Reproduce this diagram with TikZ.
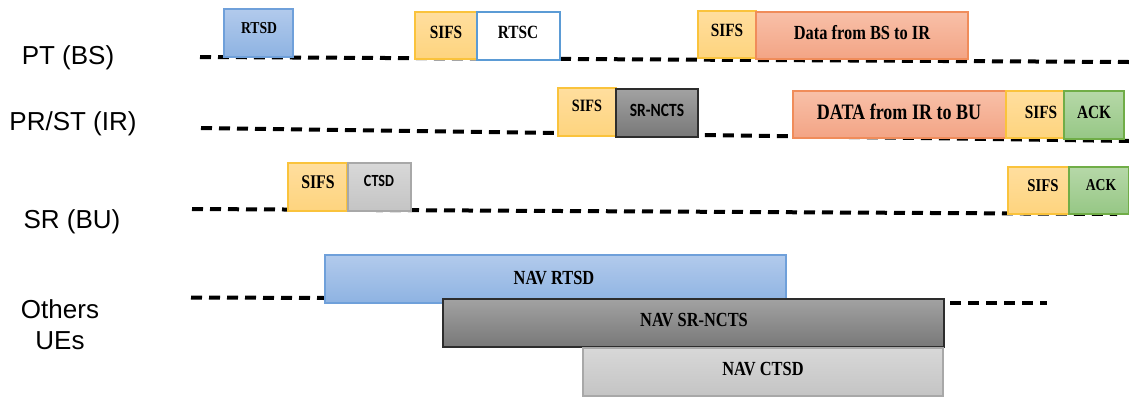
\documentclass[tikz,border=0pt]{standalone}
\usepackage{fontspec}
\setmainfont{Liberation Serif}
\newfontfamily\lblfont{Liberation Sans}
\newfontfamily\cserif[FakeStretch=0.82]{Liberation Serif}
\newfontfamily\ccal[FakeStretch=0.83]{Carlito}
\usetikzlibrary{fit}
\newcommand\fz[1]{\fontsize{#1}{#1}\selectfont}
\definecolor{blueT}{RGB}{178,202,236}
\definecolor{blueBo}{RGB}{142,179,226}
\definecolor{blueL}{RGB}{111,160,218}
\definecolor{sifsT}{RGB}{255,222,158}
\definecolor{sifsBo}{RGB}{254,212,126}
\definecolor{sifsL}{RGB}{250,195,60}
\definecolor{salT}{RGB}{248,192,168}
\definecolor{salBo}{RGB}{243,164,133}
\definecolor{salL}{RGB}{240,140,90}
\definecolor{grnT}{RGB}{182,216,168}
\definecolor{grnBo}{RGB}{150,199,133}
\definecolor{grnL}{RGB}{112,173,71}
\definecolor{dkT}{RGB}{162,162,162}
\definecolor{dkBo}{RGB}{120,120,120}
\definecolor{dkL}{RGB}{45,45,45}
\definecolor{ltT}{RGB}{216,216,216}
\definecolor{ltBo}{RGB}{196,196,196}
\definecolor{ltL}{RGB}{168,168,168}
\definecolor{rtscL}{RGB}{91,155,213}
\begin{document}
\begin{tikzpicture}[x=0.75pt,y=-0.75pt,
  lane/.style={line width=3pt, dash pattern=on 8.25pt off 5.25pt},
  frame/.style={inner sep=0pt, line width=1pt},
  bluebox/.style={frame, draw=blueL, top color=blueT, bottom color=blueBo},
  sifsbox/.style={frame, draw=sifsL, top color=sifsT, bottom color=sifsBo},
  salbox/.style={frame, draw=salL, top color=salT, bottom color=salBo},
  grnbox/.style={frame, draw=grnL, top color=grnT, bottom color=grnBo},
  dkbox/.style={frame, draw=dkL, top color=dkT, bottom color=dkBo},
  ltbox/.style={frame, draw=ltL, top color=ltT, bottom color=ltBo},
  whitebox/.style={frame, draw=rtscL, fill=white},
  txt/.style={inner sep=0pt, font=\cserif\bfseries},
  ctxt/.style={inner sep=0pt, font=\ccal\bfseries},
  rowlbl/.style={inner sep=0pt, anchor=base, font=\lblfont\fz{19.5}}
]
\useasboundingbox (0,0) rectangle (1129,397);

% row labels
\node[rowlbl] (lpt) at (68,64) {PT (BS)};
\node[rowlbl] (lpr) at (73,130) {PR/ST (IR)};
\node[rowlbl] (lsr) at (72,228) {SR (BU)};
\node[rowlbl] (loth) at (60,318) {Others};
\node[rowlbl] (lue) at (60,349) {UEs};

% time lines
\coordinate (ptL) at (200,57);  \coordinate (ptR) at (1129,62);
\coordinate (prL) at (201,128); \coordinate (prR) at (1129,141);
\coordinate (srL) at (192,209); \coordinate (srR) at (1117,214);
\coordinate (oaL) at (191,297.5); \coordinate (oaR) at (325,298);
\coordinate (obL) at (950,303); \coordinate (obR) at (1047,303);
\draw[lane] (ptL) -- (ptR);
\draw[lane] (prL) -- (prR);
\draw[lane] (srL) -- (srR);
\draw[lane] (oaL) -- (oaR);
\draw[lane] (obL) -- (obR);

% PT (BS)
\node[bluebox, fit={(224,9) (293,57)}] (rtsd) {};
\node[txt] (trtsd) at (259,28) {\fz{12.5}RTSD};
\node[sifsbox, fit={(415,12) (477,59)}] (sifsa) {};
\node[txt] (tsifsa) at (446,32) {\fz{14}SIFS};
\node[whitebox, fit={(477,12) (560,60)}] (rtsc) {};
\node[txt] (trtsc) at (518,32) {\fz{14}RTSC};
\node[sifsbox, fit={(698,11) (756,58)}] (sifsb) {};
\node[txt] (tsifsb) at (727,30) {\fz{14}SIFS};
\node[salbox, fit={(756,12) (968,59)}] (dbs) {};
\node[txt] (tdbs) at (862,33) {\fz{15}Data from BS to IR};

% PR/ST (IR)
\node[sifsbox, fit={(558,88) (616,136)}] (sifsc) {};
\node[txt] (tsifsc) at (587,106) {\fz{13}SIFS};
\node[dkbox, fit={(616,89) (698,137)}] (srncts) {};
\node[ctxt] (tsrncts) at (657,110) {\fz{14}SR-NCTS};
\node[salbox, fit={(793,91) (1006,138)}] (dir) {};
\node[txt] (tdir) at (899,112) {\fz{16.5}DATA from IR to BU};
\node[sifsbox, fit={(1006,91) (1064,138)}] (sifsd) {};
\node[txt] (tsifsd) at (1041,112) {\fz{14}SIFS};
\node[grnbox, fit={(1064,91) (1124,139)}] (acka) {};
\node[txt] (tacka) at (1094,112) {\fz{14}ACK};

% SR (BU)
\node[sifsbox, fit={(288,163) (347,211)}] (sifse) {};
\node[txt] (tsifse) at (318,182) {\fz{14.5}SIFS};
\node[ltbox, fit={(348,163) (411,211)}] (ctsd) {};
\node[ctxt] (tctsd) at (379,181) {\fz{12.75}CTSD};
\node[sifsbox, fit={(1008,167) (1069,214)}] (sifsf) {};
\node[txt] (tsifsf) at (1043,185.5) {\fz{13.5}SIFS};
\node[grnbox, fit={(1069,167) (1129,214)}] (ackb) {};
\node[txt] (tackb) at (1101,185.5) {\fz{12.5}ACK};

% Others UEs
\node[bluebox, fit={(325,255) (786,303)}] (navr) {};
\node[txt] (tnavr) at (554,278) {\fz{15}NAV RTSD};
\node[dkbox, fit={(443,299) (944,347)}] (navs) {};
\node[txt] (tnavs) at (694,320) {\fz{15}NAV SR-NCTS};
\node[ltbox, fit={(583,348) (943,396)}] (navc) {};
\node[txt] (tnavc) at (763,369) {\fz{15}NAV CTSD};
\end{tikzpicture}
\end{document}
